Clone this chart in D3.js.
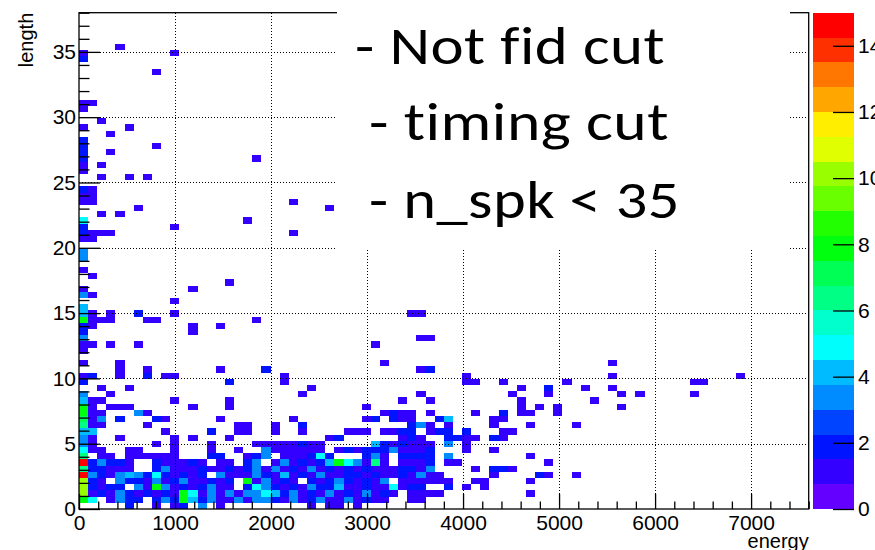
<!DOCTYPE html>
<html>
<head>
<meta charset="utf-8">
<script src="https://cdn.jsdelivr.net/npm/d3@7"></script>
<style>
  body { margin: 0; background: #fff; }
  svg { display: block; }
</style>
</head>
<body>
<div id="root"></div>
<script>
// histogram binning (80 x 80 bins)
const energyMax = 7600, nEnergyBins = 80;
const lengthMax = 38, nLengthBins = 80;
const energyTicks = [0, 1000, 2000, 3000, 4000, 5000, 6000, 7000];
const lengthTicks = [0, 5, 10, 15, 20, 25, 30, 35];
const zMax = 15, nLevels = 20;
const zTicks = [0, 2, 4, 6, 8, 10, 12, 14];
const cutLines = ["- Not fid cut", "- timing cut", "- n_spk < 35"];

// bin contents, one string per length bin (index 0 = lowest),
// one char per energy bin: '.' empty, 1-9, a-f = 10-15 (spaces only group by 10)
const lengthRows = [
  ".....2..1. 12.3.1.... .....1.11. 1",
  "85.1322.23 2842311313 3213123113 1211..11..",
  "a121321212 1851313133 5423121312 13121.1111 .........1",
  "a2122.3183 1212311.25 3212132241 12115122.. 2.1.1",
  "a21.322131 2311212.81 3121.21232 1213.11111 1..11....1",
  "f321343252 1212.31113 2141213112 2121121311 .....1.... 21..1",
  "622111..23 1112112123 1312131212 121112213. ...1.221",
  "f23221..21 1121.11.23 .131212485 3161.1112. 11........ .1",
  "6.11.11111 1...22..12 3.111252.. .231.2222. 3........1",
  "511..11... 1...1..1.. 3111111.12 122231112. ..1..1",
  "31......1. 1...1....1 1111211... ..4212111. 3.1",
  "31..1..... 1.1...1... .......12. .....121.. 2211.21",
  "44.......1 ....2..11. .1..1....1 11.1122.12 2.2...11",
  "611....1.. .......11. .1..2..... ......231. 1....1...1 ....1",
  "713.2...21 .....1.... ...1...... .12.211..2 4....11",
  "811...31.. .......... .......... ...1211.1. ...1..2.11 ..1",
  "81.111.... ..1...1... .......... .1........ ........1. 1.1......1",
  "411....... 1.....1... .......... .....1..1. ........1. ......1",
  "3..1...... .......... ....1..... .......1.. .......1.. .1.......1 .1.....1",
  "..1..1.... .......... .....1.... .......... ........1. .2...1..1",
  "2......... ......2... ..1....... .......... ..11..1... ...1...... .......11",
  "12..1..2.1 1......... ..1....... .......... ..1....... ........1. .......... ..1",
  "....1..1.. .....1.... 2......... .......12",
  "1...1..... .......... .......... ...1...... .......... ........1",
  "",
  "1",
  "11.1..1... .......... .......... ..1",
  "3......... .......... .......... .......11",
  "2......... ..1",
  "21........ ..1..1",
  "8111...11. .........1",
  "41.1..2... 1......... .......... ......11",
  "4",
  ".......... 1",
  "31",
  "1......... ..1",
  ".......... ......1",
  ".1",
  "1",
  "",
  "3",
  "3",
  "",
  "11",
  "2111...... .......... ...1",
  "2......... 1",
  "5......... ........1",
  "..1.1",
  "......1... .......... .......1",
  "11........ .......... ...1",
  "11",
  "21",
  "",
  "..1..1.1",
  "1",
  "1.1",
  "2......... .........1",
  "2..1",
  "2.......1",
  "2",
  "...1",
  "1....1",
  "..1",
  "",
  "1",
  "11",
  "", "", "", "",
  "........1",
  "",
  "2",
  "1......... 1",
  "....1"
];

const W = 875, H = 550;
const plot = {left: 79, right: 808.7, top: 12.7, bottom: 509};
const bar = {left: 812.7, right: 854};
const font = "'Liberation Sans', Arial, Helvetica, sans-serif";

const x = d3.scaleLinear().domain([0, energyMax]).range([plot.left, plot.right]);
const y = d3.scaleLinear().domain([0, lengthMax]).range([plot.bottom, plot.top]);
const z = d3.scaleLinear().domain([0, zMax]).range([plot.bottom, plot.top]);

// ROOT "pretty" palette (50 colours, violet -> red), 20 contour levels
function levelColor(k) {
  const idx = Math.floor((k + 0.99) * 50 / nLevels);
  return d3.hsl(280 - (idx + 1) * 5.6, 1, 0.5).formatHex();
}
function countColor(c) {
  const k = Math.min(nLevels - 1, Math.floor(c / (zMax / nLevels)));
  return levelColor(k);
}

const ew = energyMax / nEnergyBins, lw = lengthMax / nLengthBins;
const cells = [];
lengthRows.forEach((row, j) => {
  row.replace(/ /g, "").split("").forEach((ch, i) => {
    if (ch !== ".") cells.push({i: i, j: j, c: parseInt(ch, 16)});
  });
});

const svg = d3.select("#root").append("svg")
  .attr("width", W).attr("height", H);

// bins
svg.append("g").attr("shape-rendering", "crispEdges")
  .selectAll("rect").data(cells).enter().append("rect")
    .attr("x", d => x(d.i * ew))
    .attr("y", d => y((d.j + 1) * lw))
    .attr("width", d => x((d.i + 1) * ew) - x(d.i * ew))
    .attr("height", d => y(d.j * lw) - y((d.j + 1) * lw))
    .attr("fill", d => countColor(d.c));

// dotted grid
const grid = svg.append("g").attr("stroke", "#000").attr("stroke-width", 1)
  .attr("stroke-dasharray", "1,2").attr("shape-rendering", "crispEdges");
grid.selectAll(".gx").data(energyTicks.slice(1)).enter().append("line")
  .attr("x1", d => Math.round(x(d)) + 0.5).attr("x2", d => Math.round(x(d)) + 0.5)
  .attr("y1", plot.top).attr("y2", plot.bottom);
grid.selectAll(".gy").data(lengthTicks.slice(1)).enter().append("line")
  .attr("y1", d => Math.round(y(d)) + 0.5).attr("y2", d => Math.round(y(d)) + 0.5)
  .attr("x1", plot.left).attr("x2", plot.right);

// frame
svg.append("rect")
  .attr("x", plot.left).attr("y", plot.top)
  .attr("width", plot.right - plot.left).attr("height", plot.bottom - plot.top)
  .attr("fill", "none").attr("stroke", "#000").attr("stroke-width", 1.3);

function styleAxis(g) {
  g.select(".domain").remove();
  g.selectAll("text").attr("font-family", font).attr("font-size", 21).attr("fill", "#000");
  g.selectAll("line").attr("stroke", "#000").attr("stroke-width", 1.3);
}

// x axis
const minorE = d3.range(0, energyMax + 1, 200).filter(v => v % 1000 !== 0);
svg.append("g").attr("transform", `translate(0,${plot.bottom})`)
  .call(d3.axisBottom(x).tickValues(minorE).tickSize(-7.5).tickFormat(""))
  .call(styleAxis);
svg.append("g").attr("transform", `translate(0,${plot.bottom})`)
  .call(d3.axisBottom(x).tickValues(energyTicks).tickSize(-15).tickPadding(6).tickFormat(d3.format("d")))
  .call(styleAxis);

// y axis
const minorL = d3.range(0, lengthMax + 0.5, 1).filter(v => v % 5 !== 0);
svg.append("g").attr("transform", `translate(${plot.left},0)`)
  .call(d3.axisLeft(y).tickValues(minorL).tickSize(-10.5).tickFormat(""))
  .call(styleAxis);
svg.append("g").attr("transform", `translate(${plot.left},0)`)
  .call(d3.axisLeft(y).tickValues(lengthTicks).tickSize(-21).tickPadding(3))
  .call(styleAxis);

// axis titles
svg.append("text").attr("x", plot.right).attr("y", 548)
  .attr("text-anchor", "end").attr("font-family", font).attr("font-size", 20)
  .text("energy");
svg.append("text").attr("transform", `translate(33,${plot.top}) rotate(-90)`)
  .attr("text-anchor", "end").attr("font-family", font).attr("font-size", 20)
  .text("length");

// palette
const levels = d3.range(nLevels);
svg.append("g").attr("shape-rendering", "crispEdges")
  .selectAll("rect").data(levels).enter().append("rect")
    .attr("x", bar.left).attr("width", bar.right - bar.left)
    .attr("y", k => z((k + 1) * zMax / nLevels))
    .attr("height", k => z(k * zMax / nLevels) - z((k + 1) * zMax / nLevels))
    .attr("fill", k => levelColor(k));
svg.append("g").attr("transform", `translate(${bar.right},0)`)
  .call(d3.axisRight(z).tickValues(zTicks).tickSize(-21).tickPadding(4))
  .call(styleAxis);

// text box pasted over the plot
svg.append("rect").attr("x", 337).attr("y", 0).attr("width", 790 - 337).attr("height", 249)
  .attr("fill", "#fff");
const cutX = [355, 369, 369], cutY = [64, 140, 218], cutLen = [310, 300, 311];
svg.append("g").selectAll("text").data(cutLines).enter().append("text")
  .attr("x", (d, i) => cutX[i]).attr("y", (d, i) => cutY[i])
  .attr("textLength", (d, i) => cutLen[i]).attr("lengthAdjust", "spacingAndGlyphs")
  .attr("font-family", "Carlito, Lato, 'Open Sans', sans-serif").attr("font-size", 53)
  .attr("letter-spacing", 0.4)
  .style("font-variant-ligatures", "none")
  .attr("fill", "#000")
  .text(d => d);
</script>
</body>
</html>
